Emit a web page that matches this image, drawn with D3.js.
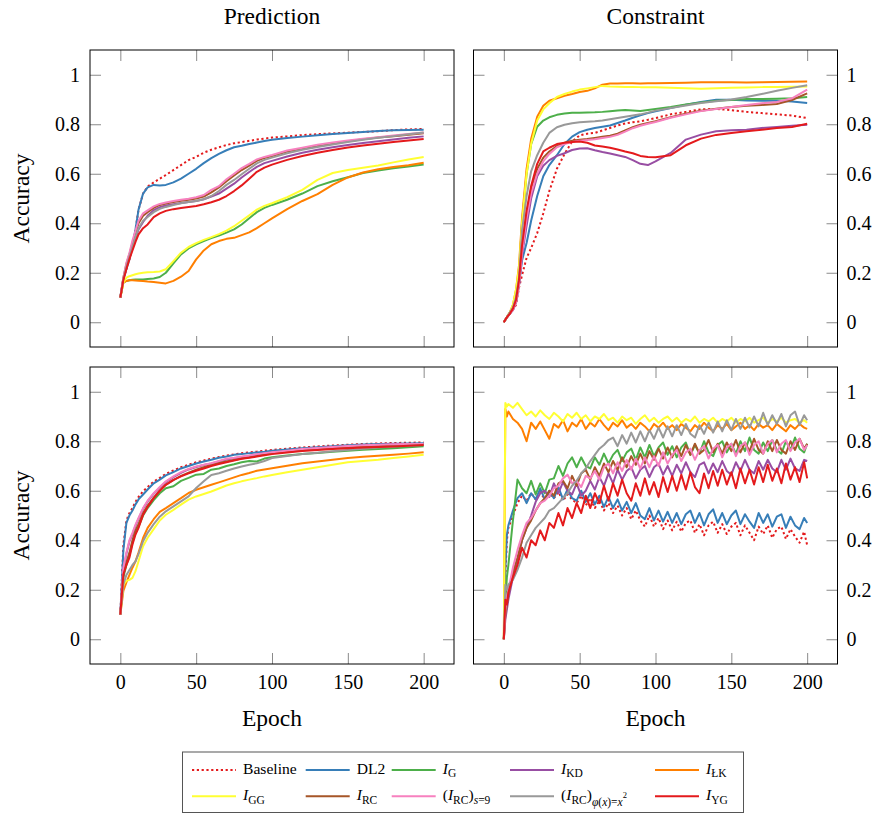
<!DOCTYPE html>
<html>
<head>
<meta charset="utf-8">
<script src="https://cdn.jsdelivr.net/npm/d3@7"></script>
<style>
  body { margin: 0; background: #fff; }
  svg { display: block; font-family: "Liberation Serif", "Times New Roman", serif; }
</style>
</head>
<body>
<svg id="chart"></svg>
<script>
      //begin: data
      var seriesNames = ["Baseline", "DL2", "I_G", "I_KD", "I_ŁK", "I_GG", "I_RC", "(I_RC)_s=9", "(I_RC)_phi(x)=x^2", "I_YG"];

      var epochsSmooth = [0,2,4,6,8,10,12,15,18,22,26,30,35,40,45,50,55,60,65,70,75,80,85,90,95,100,110,120,130,140,150,160,170,180,190,200];
      var epochsNoisy = [0,1,2,3,6,9,12,15,18,21,
                         24,27,30,33,36,39,42,45,48,51,
                         54,57,60,63,66,69,72,75,78,81,
                         84,87,90,93,96,99,102,105,108,111,
                         114,117,120,123,126,129,132,135,138,141,
                         144,147,150,153,156,159,162,165,168,171,
                         174,177,180,183,186,189,192,195,198,200];

      var xTickValues = [0, 50, 100, 150, 200];
      var yTickValues = [0, 0.2, 0.4, 0.6, 0.8, 1];

      // top row, Prediction (rows follow seriesNames)
      var topPrediction = [
        [0.10,0.175,0.215,0.255,0.31,0.375,0.455,0.52,0.548,0.565,0.58,0.595,0.615,0.635,0.655,0.668,0.685,0.697,0.707,0.716,0.723,0.728,0.733,0.738,0.742,0.746,0.751,0.756,0.76,0.763,0.766,0.769,0.772,0.776,0.779,0.781],
        [0.10,0.175,0.215,0.255,0.31,0.375,0.455,0.52,0.545,0.555,0.553,0.555,0.565,0.58,0.60,0.62,0.643,0.663,0.68,0.695,0.707,0.713,0.72,0.726,0.732,0.737,0.744,0.75,0.756,0.761,0.765,0.769,0.773,0.776,0.777,0.778],
        [0.10,0.16,0.167,0.17,0.172,0.173,0.173,0.173,0.175,0.177,0.183,0.20,0.238,0.274,0.298,0.315,0.328,0.34,0.35,0.362,0.375,0.395,0.42,0.445,0.462,0.474,0.495,0.52,0.55,0.57,0.586,0.603,0.613,0.622,0.629,0.637],
        [0.10,0.175,0.22,0.26,0.30,0.34,0.375,0.405,0.43,0.453,0.465,0.472,0.477,0.482,0.486,0.49,0.497,0.508,0.52,0.54,0.56,0.585,0.607,0.628,0.643,0.652,0.67,0.685,0.697,0.707,0.716,0.724,0.731,0.738,0.745,0.751],
        [0.10,0.16,0.167,0.17,0.17,0.169,0.168,0.167,0.165,0.163,0.16,0.157,0.167,0.184,0.207,0.254,0.29,0.315,0.328,0.337,0.341,0.352,0.363,0.38,0.40,0.42,0.457,0.49,0.518,0.555,0.585,0.605,0.618,0.627,0.634,0.644],
        [0.10,0.16,0.18,0.186,0.19,0.194,0.197,0.20,0.202,0.203,0.205,0.214,0.247,0.281,0.304,0.32,0.333,0.344,0.356,0.37,0.388,0.41,0.432,0.455,0.47,0.481,0.505,0.535,0.575,0.603,0.615,0.624,0.633,0.646,0.658,0.668],
        [0.10,0.18,0.235,0.275,0.32,0.36,0.40,0.43,0.445,0.462,0.474,0.48,0.486,0.491,0.495,0.50,0.508,0.525,0.545,0.57,0.593,0.615,0.633,0.652,0.664,0.672,0.69,0.702,0.713,0.722,0.731,0.739,0.746,0.752,0.758,0.764],
        [0.10,0.18,0.24,0.28,0.33,0.37,0.41,0.44,0.452,0.468,0.478,0.484,0.49,0.495,0.499,0.505,0.514,0.535,0.55,0.578,0.60,0.623,0.64,0.658,0.668,0.676,0.694,0.705,0.717,0.726,0.734,0.741,0.748,0.755,0.761,0.767],
        [0.10,0.175,0.225,0.265,0.305,0.345,0.38,0.41,0.425,0.445,0.458,0.466,0.474,0.481,0.486,0.49,0.497,0.51,0.53,0.555,0.575,0.598,0.62,0.642,0.656,0.665,0.683,0.697,0.708,0.718,0.728,0.737,0.745,0.752,0.76,0.767],
        [0.10,0.17,0.215,0.255,0.29,0.325,0.355,0.38,0.395,0.425,0.44,0.45,0.457,0.462,0.466,0.47,0.477,0.485,0.495,0.51,0.53,0.553,0.58,0.608,0.625,0.637,0.656,0.672,0.685,0.696,0.706,0.714,0.721,0.728,0.734,0.74]
      ];

      // top row, Constraint
      var topConstraint = [
        [0,0.02,0.035,0.05,0.07,0.14,0.19,0.26,0.30,0.36,0.44,0.53,0.62,0.68,0.73,0.755,0.762,0.765,0.775,0.785,0.795,0.803,0.808,0.812,0.818,0.825,0.84,0.85,0.86,0.862,0.857,0.85,0.845,0.84,0.835,0.825],
        [0,0.02,0.035,0.05,0.08,0.15,0.25,0.32,0.41,0.51,0.59,0.635,0.675,0.72,0.75,0.768,0.778,0.785,0.79,0.795,0.805,0.815,0.826,0.836,0.845,0.852,0.866,0.879,0.89,0.899,0.899,0.896,0.895,0.895,0.892,0.886],
        [0,0.02,0.04,0.06,0.11,0.20,0.40,0.60,0.72,0.79,0.815,0.828,0.838,0.843,0.846,0.846,0.847,0.848,0.85,0.853,0.856,0.858,0.856,0.854,0.858,0.862,0.87,0.88,0.888,0.895,0.898,0.902,0.902,0.903,0.905,0.91],
        [0,0.02,0.035,0.05,0.08,0.15,0.27,0.39,0.50,0.59,0.632,0.655,0.672,0.683,0.696,0.702,0.703,0.695,0.688,0.682,0.675,0.668,0.655,0.64,0.635,0.65,0.684,0.738,0.758,0.772,0.776,0.778,0.785,0.789,0.794,0.798],
        [0,0.02,0.04,0.07,0.13,0.23,0.42,0.62,0.74,0.83,0.875,0.895,0.905,0.915,0.922,0.93,0.935,0.945,0.96,0.965,0.965,0.966,0.966,0.965,0.966,0.966,0.967,0.968,0.97,0.97,0.97,0.969,0.97,0.971,0.972,0.973],
        [0,0.02,0.04,0.07,0.13,0.22,0.40,0.60,0.72,0.815,0.86,0.885,0.91,0.922,0.932,0.94,0.945,0.95,0.955,0.953,0.952,0.951,0.951,0.95,0.95,0.949,0.947,0.945,0.943,0.945,0.947,0.948,0.95,0.951,0.952,0.953],
        [0,0.02,0.035,0.055,0.085,0.16,0.30,0.44,0.54,0.62,0.665,0.69,0.712,0.725,0.733,0.737,0.74,0.745,0.75,0.754,0.762,0.775,0.788,0.798,0.805,0.812,0.828,0.843,0.855,0.863,0.87,0.875,0.878,0.882,0.898,0.925],
        [0,0.02,0.035,0.05,0.08,0.15,0.28,0.42,0.52,0.60,0.65,0.68,0.707,0.72,0.728,0.733,0.736,0.739,0.744,0.749,0.757,0.77,0.784,0.794,0.802,0.809,0.826,0.84,0.853,0.862,0.87,0.878,0.885,0.89,0.905,0.94],
        [0,0.02,0.04,0.06,0.10,0.18,0.37,0.51,0.61,0.675,0.725,0.765,0.788,0.798,0.804,0.808,0.81,0.812,0.815,0.82,0.825,0.83,0.835,0.84,0.847,0.855,0.866,0.876,0.886,0.893,0.90,0.91,0.922,0.935,0.947,0.958],
        [0,0.02,0.035,0.055,0.09,0.17,0.31,0.45,0.55,0.64,0.69,0.705,0.72,0.725,0.728,0.73,0.725,0.714,0.71,0.705,0.698,0.69,0.683,0.672,0.668,0.667,0.675,0.715,0.742,0.757,0.765,0.772,0.778,0.785,0.789,0.802]
      ];

      // bottom row, Prediction
      var bottomPrediction = [
        [0.10,0.38,0.48,0.51,0.53,0.555,0.575,0.598,0.615,0.637,0.652,0.668,0.682,0.695,0.705,0.715,0.722,0.73,0.736,0.742,0.747,0.752,0.755,0.758,0.762,0.765,0.77,0.775,0.779,0.783,0.786,0.789,0.791,0.793,0.794,0.795],
        [0.10,0.36,0.47,0.50,0.52,0.545,0.565,0.585,0.605,0.63,0.645,0.662,0.675,0.69,0.70,0.71,0.718,0.725,0.733,0.738,0.745,0.748,0.752,0.755,0.758,0.762,0.767,0.772,0.776,0.78,0.784,0.787,0.789,0.79,0.791,0.792],
        [0.10,0.25,0.30,0.34,0.39,0.43,0.455,0.50,0.53,0.562,0.59,0.61,0.618,0.64,0.652,0.665,0.668,0.685,0.69,0.70,0.707,0.715,0.72,0.718,0.73,0.735,0.742,0.748,0.753,0.758,0.762,0.766,0.769,0.772,0.776,0.78],
        [0.10,0.28,0.345,0.395,0.425,0.458,0.487,0.527,0.557,0.588,0.612,0.635,0.655,0.672,0.686,0.696,0.704,0.71,0.718,0.726,0.731,0.736,0.74,0.746,0.75,0.754,0.76,0.767,0.771,0.775,0.779,0.782,0.785,0.787,0.788,0.789],
        [0.10,0.195,0.23,0.26,0.289,0.315,0.35,0.409,0.45,0.485,0.515,0.53,0.55,0.57,0.591,0.604,0.614,0.624,0.634,0.644,0.654,0.664,0.672,0.681,0.686,0.691,0.701,0.711,0.718,0.725,0.732,0.737,0.741,0.745,0.75,0.756],
        [0.10,0.221,0.236,0.24,0.248,0.275,0.315,0.376,0.41,0.445,0.48,0.503,0.523,0.544,0.564,0.577,0.587,0.597,0.609,0.621,0.63,0.638,0.645,0.651,0.658,0.664,0.675,0.685,0.695,0.705,0.715,0.72,0.725,0.732,0.738,0.745],
        [0.10,0.26,0.31,0.35,0.40,0.44,0.465,0.51,0.54,0.572,0.60,0.625,0.643,0.66,0.673,0.685,0.695,0.705,0.712,0.718,0.724,0.73,0.735,0.74,0.746,0.752,0.758,0.764,0.768,0.772,0.777,0.78,0.782,0.784,0.786,0.787],
        [0.10,0.29,0.35,0.40,0.43,0.463,0.49,0.53,0.56,0.59,0.615,0.638,0.658,0.675,0.688,0.698,0.705,0.711,0.72,0.729,0.733,0.738,0.742,0.748,0.752,0.756,0.762,0.769,0.773,0.777,0.781,0.784,0.786,0.788,0.789,0.789],
        [0.10,0.221,0.26,0.28,0.30,0.315,0.345,0.396,0.43,0.465,0.495,0.517,0.537,0.557,0.577,0.611,0.638,0.664,0.671,0.681,0.69,0.698,0.705,0.711,0.72,0.732,0.74,0.748,0.754,0.76,0.765,0.77,0.775,0.779,0.782,0.785],
        [0.10,0.262,0.30,0.33,0.383,0.423,0.45,0.503,0.535,0.57,0.60,0.624,0.644,0.658,0.67,0.681,0.69,0.70,0.708,0.715,0.722,0.729,0.733,0.738,0.743,0.748,0.755,0.761,0.765,0.769,0.772,0.775,0.777,0.779,0.782,0.785]
      ];

      // bottom row, Constraint (read every 3 epochs)
      var bottomConstraint = [
        [0,0.25,0.40,0.45,0.50,0.55,0.58,0.56,0.59,0.565,
         0.595,0.565,0.59,0.57,0.595,0.56,0.585,0.565,0.55,0.58,
         0.54,0.57,0.53,0.56,0.52,0.55,0.51,0.54,0.50,0.53,
         0.485,0.52,0.48,0.455,0.50,0.455,0.49,0.445,0.48,0.44,
         0.475,0.435,0.47,0.48,0.43,0.465,0.42,0.46,0.475,0.43,
         0.465,0.425,0.455,0.47,0.42,0.46,0.43,0.40,0.455,0.425,
         0.46,0.41,0.445,0.455,0.405,0.445,0.415,0.39,0.435,0.38],
        [0,0.28,0.42,0.46,0.52,0.57,0.59,0.55,0.59,0.565,
         0.61,0.565,0.60,0.57,0.615,0.565,0.605,0.57,0.56,0.60,
         0.555,0.59,0.545,0.58,0.535,0.575,0.53,0.565,0.52,0.555,
         0.51,0.55,0.50,0.485,0.53,0.48,0.52,0.475,0.515,0.47,
         0.51,0.465,0.505,0.52,0.47,0.51,0.46,0.505,0.525,0.47,
         0.51,0.465,0.50,0.52,0.465,0.505,0.475,0.45,0.51,0.47,
         0.505,0.455,0.495,0.505,0.45,0.495,0.46,0.445,0.49,0.47],
        [0,0.15,0.25,0.30,0.48,0.645,0.61,0.59,0.64,0.585,
         0.63,0.59,0.645,0.65,0.70,0.66,0.71,0.735,0.695,0.735,
         0.70,0.69,0.735,0.705,0.75,0.71,0.745,0.765,0.72,0.755,
         0.77,0.725,0.775,0.735,0.785,0.74,0.775,0.795,0.745,0.78,
         0.735,0.775,0.795,0.745,0.785,0.75,0.80,0.755,0.74,0.785,
         0.80,0.755,0.79,0.75,0.80,0.76,0.815,0.765,0.75,0.795,
         0.76,0.805,0.765,0.75,0.80,0.765,0.815,0.77,0.755,0.79],
        [0,0.08,0.12,0.16,0.25,0.32,0.40,0.45,0.50,0.555,
         0.59,0.60,0.575,0.63,0.59,0.635,0.60,0.585,0.63,0.58,
         0.60,0.64,0.605,0.655,0.62,0.67,0.63,0.685,0.645,0.68,
         0.695,0.65,0.685,0.70,0.655,0.695,0.71,0.665,0.70,0.66,
         0.705,0.67,0.715,0.675,0.655,0.705,0.715,0.67,0.71,0.675,
         0.72,0.68,0.665,0.715,0.68,0.725,0.685,0.67,0.72,0.685,
         0.725,0.69,0.675,0.725,0.685,0.73,0.69,0.68,0.725,0.72],
        [0,0.93,0.90,0.92,0.89,0.875,0.85,0.80,0.875,0.85,
         0.88,0.845,0.81,0.87,0.855,0.885,0.84,0.875,0.86,0.89,
         0.85,0.875,0.86,0.89,0.865,0.845,0.875,0.86,0.885,0.855,
         0.87,0.85,0.875,0.86,0.84,0.87,0.855,0.875,0.85,0.865,
         0.845,0.87,0.855,0.84,0.865,0.85,0.875,0.855,0.84,0.865,
         0.85,0.87,0.845,0.86,0.875,0.85,0.865,0.845,0.87,0.855,
         0.865,0.845,0.87,0.855,0.84,0.865,0.85,0.87,0.855,0.85],
        [0,0.955,0.94,0.95,0.935,0.955,0.93,0.905,0.92,0.90,
         0.925,0.905,0.89,0.915,0.90,0.88,0.91,0.895,0.915,0.89,
         0.905,0.88,0.90,0.89,0.91,0.885,0.895,0.875,0.90,0.885,
         0.895,0.87,0.89,0.905,0.88,0.895,0.875,0.89,0.90,0.88,
         0.895,0.875,0.89,0.88,0.90,0.875,0.89,0.88,0.895,0.875,
         0.89,0.88,0.895,0.875,0.89,0.88,0.895,0.875,0.885,0.895,
         0.875,0.89,0.88,0.895,0.875,0.885,0.89,0.875,0.885,0.875],
        [0,0.10,0.14,0.18,0.27,0.33,0.40,0.45,0.48,0.52,
         0.55,0.57,0.60,0.58,0.63,0.64,0.61,0.66,0.62,0.67,
         0.685,0.645,0.695,0.66,0.71,0.675,0.72,0.685,0.735,0.695,
         0.74,0.705,0.75,0.71,0.76,0.725,0.77,0.73,0.775,0.735,
         0.78,0.74,0.785,0.745,0.79,0.75,0.765,0.805,0.755,0.79,
         0.75,0.795,0.76,0.805,0.755,0.795,0.76,0.81,0.765,0.75,
         0.80,0.76,0.805,0.765,0.75,0.80,0.765,0.81,0.77,0.79],
        [0,0.12,0.17,0.20,0.29,0.36,0.42,0.47,0.49,0.52,
         0.55,0.56,0.58,0.61,0.62,0.65,0.665,0.63,0.64,0.615,
         0.66,0.65,0.68,0.645,0.695,0.71,0.67,0.715,0.68,0.725,
         0.685,0.73,0.69,0.735,0.695,0.74,0.70,0.755,0.71,0.745,
         0.765,0.72,0.755,0.77,0.725,0.765,0.78,0.73,0.77,0.785,
         0.735,0.775,0.79,0.74,0.78,0.795,0.745,0.785,0.80,0.75,
         0.79,0.805,0.755,0.79,0.805,0.76,0.795,0.81,0.765,0.785],
        [0,0.22,0.20,0.22,0.24,0.28,0.33,0.39,0.42,0.45,
         0.47,0.49,0.52,0.53,0.55,0.57,0.59,0.62,0.64,0.67,
         0.69,0.72,0.745,0.77,0.785,0.805,0.815,0.78,0.825,0.79,
         0.835,0.795,0.84,0.80,0.845,0.81,0.855,0.815,0.86,0.82,
         0.865,0.825,0.87,0.83,0.815,0.865,0.83,0.875,0.835,0.88,
         0.84,0.885,0.845,0.89,0.85,0.895,0.855,0.90,0.86,0.915,
         0.865,0.905,0.87,0.91,0.86,0.905,0.92,0.865,0.905,0.885],
        [0,0.16,0.14,0.19,0.25,0.30,0.37,0.33,0.40,0.38,
         0.44,0.40,0.47,0.45,0.51,0.46,0.53,0.49,0.55,0.51,
         0.58,0.53,0.59,0.55,0.62,0.56,0.63,0.58,0.645,0.59,
         0.56,0.63,0.58,0.65,0.585,0.635,0.575,0.655,0.595,0.66,
         0.60,0.665,0.605,0.675,0.615,0.59,0.67,0.61,0.68,0.62,
         0.685,0.625,0.675,0.61,0.69,0.63,0.685,0.625,0.695,0.635,
         0.705,0.64,0.69,0.63,0.71,0.645,0.695,0.635,0.715,0.65]
      ];

      // legend label pieces: [text, kind]
      var legendLabels = [
        [["Baseline", ""]],
        [["DL2", ""]],
        [["I", "i"], ["G", "sub"]],
        [["I", "i"], ["KD", "sub"]],
        [["I", "i"], ["ŁK", "sub"]],
        [["I", "i"], ["GG", "sub"]],
        [["I", "i"], ["RC", "sub"]],
        [["(", ""], ["I", "i"], ["RC", "sub"], [")", ""], ["s", "subi"], ["=9", "sub"]],
        [["(", ""], ["I", "i"], ["RC", "sub"], [")", ""], ["φ", "sub2i"], ["(", "sub2"], ["x", "sub2i"], [")=", "sub2"], ["x", "sub2i"], ["2", "sup2"]],
        [["I", "i"], ["YG", "sub"]]
      ];
      //end: data

      //begin: drawing conf.
      var seriesColors = ["#e41a1c", "#377eb8", "#4daf4a", "#984ea3", "#ff7f00", "#ffff33", "#a65628", "#f781bf", "#999999", "#e41a1c"];
      var seriesDash = ["2.2,2.6", null, null, null, null, null, null, null, null, null];
      var lineWidth = 2;

      var svgWidth = 878, svgHeight = 814,
          panelWidth = 364, panelHeight = 297,
          panelLefts = [90, 473.5],
          panelTops = [50, 367],
          tickLength = 11,
          tickFont = 20,
          titleFont = 23.5,
          legendFont = 15.6;

      var legendBox = {x: 182.5, y: 752, w: 561, h: 60.5},
          legendCols = [192, 305.7, 391.7, 510, 655],
          legendRows = [770, 796.3],
          legendSample = 44,
          legendGap = 7;

      var labelKinds = {
        "":    {off: 0,   size: legendFont, italic: false},
        i:     {off: 0,   size: legendFont, italic: true},
        sub:   {off: 3.4, size: 11.5, italic: false},
        subi:  {off: 3.4, size: 11.5, italic: true},
        sub2:  {off: 5.5, size: 11.5, italic: false},
        sub2i: {off: 5.5, size: 11.5, italic: true},
        sup2:  {off: -2.5, size: 8.5, italic: false}
      };
      //end: drawing conf.

      var panels = [
        {data: topPrediction,    epochs: epochsSmooth, col: 0, row: 0, title: "Prediction"},
        {data: topConstraint,    epochs: epochsSmooth, col: 1, row: 0, title: "Constraint"},
        {data: bottomPrediction, epochs: epochsSmooth, col: 0, row: 1},
        {data: bottomConstraint, epochs: epochsNoisy,  col: 1, row: 1}
      ];

      var svg = d3.select("#chart")
        .attr("width", svgWidth)
        .attr("height", svgHeight);

      panels.forEach(drawPanel);
      drawLegend();

      function styleAxis(g) {
        g.select(".domain").remove();
        g.selectAll(".tick line").attr("stroke", "#8a8a8a").attr("stroke-width", 1);
        g.selectAll(".tick text")
          .attr("fill", "#000")
          .style("font-family", "'Liberation Serif', 'Times New Roman', serif")
          .style("font-size", tickFont + "px");
      }

      function drawPanel(p) {
        var left = panelLefts[p.col], top = panelTops[p.row];
        var x = d3.scaleLinear().domain([-20, 220]).range([left, left + panelWidth]);
        var y = d3.scaleLinear().domain([-0.1, 1.1]).range([top + panelHeight, top]);

        var g = svg.append("g").classed("panel", true);

        // ticks, all pointing inward
        g.append("g")
          .attr("transform", "translate(0," + (top + panelHeight) + ")")
          .call(d3.axisBottom(x).tickValues(xTickValues).tickSize(-tickLength).tickPadding(11)
            .tickFormat(p.row === 1 ? d3.format("d") : ""))
          .call(styleAxis);
        g.append("g")
          .attr("transform", "translate(0," + top + ")")
          .call(d3.axisTop(x).tickValues(xTickValues).tickSize(-tickLength).tickFormat(""))
          .call(styleAxis);
        g.append("g")
          .attr("transform", "translate(" + left + ",0)")
          .call(d3.axisLeft(y).tickValues(yTickValues).tickSize(-tickLength).tickPadding(10)
            .tickFormat(p.col === 0 ? function(d) { return String(d); } : ""))
          .call(styleAxis);
        g.append("g")
          .attr("transform", "translate(" + (left + panelWidth) + ",0)")
          .call(d3.axisRight(y).tickValues(yTickValues).tickSize(-tickLength).tickPadding(9)
            .tickFormat(p.col === 1 ? function(d) { return String(d); } : ""))
          .call(styleAxis);

        var line = d3.line()
          .x(function(d, i) { return x(p.epochs[i]); })
          .y(function(d) { return y(d); });

        g.append("g")
          .selectAll("path")
          .data(p.data)
          .enter().append("path")
            .attr("d", line)
            .attr("fill", "none")
            .attr("stroke", function(d, i) { return seriesColors[i]; })
            .attr("stroke-width", lineWidth)
            .attr("stroke-linejoin", "round")
            .attr("stroke-dasharray", function(d, i) { return seriesDash[i]; });

        g.append("rect")
          .attr("x", left).attr("y", top)
          .attr("width", panelWidth).attr("height", panelHeight)
          .attr("fill", "none")
          .attr("stroke", "#000")
          .attr("stroke-width", 1);

        if (p.title) {
          svg.append("text")
            .attr("x", left + panelWidth / 2)
            .attr("y", 24)
            .attr("text-anchor", "middle")
            .style("font-size", titleFont + "px")
            .text(p.title);
        }
        if (p.col === 0) {
          svg.append("text")
            .attr("transform", "translate(" + [29, top + panelHeight / 2] + ") rotate(-90)")
            .attr("text-anchor", "middle")
            .style("font-size", titleFont + "px")
            .text("Accuracy");
        }
        if (p.row === 1) {
          svg.append("text")
            .attr("x", left + panelWidth / 2)
            .attr("y", 726)
            .attr("text-anchor", "middle")
            .style("font-size", titleFont + "px")
            .text("Epoch");
        }
      }

      function drawLegend() {
        var legend = svg.append("g").classed("legend", true);

        legend.append("rect")
          .attr("x", legendBox.x).attr("y", legendBox.y)
          .attr("width", legendBox.w).attr("height", legendBox.h)
          .attr("fill", "#fff")
          .attr("stroke", "#555")
          .attr("stroke-width", 1);

        seriesNames.forEach(function(name, i) {
          var cx = legendCols[i % 5], cy = legendRows[Math.floor(i / 5)];
          legend.append("line")
            .attr("x1", cx).attr("x2", cx + legendSample)
            .attr("y1", cy).attr("y2", cy)
            .attr("stroke", seriesColors[i])
            .attr("stroke-width", lineWidth)
            .attr("stroke-dasharray", seriesDash[i]);

          var text = legend.append("text")
            .attr("x", cx + legendSample + legendGap)
            .attr("y", cy + 4)
            .style("font-size", legendFont + "px");
          var prev = 0;
          legendLabels[i].forEach(function(part) {
            var k = labelKinds[part[1]];
            text.append("tspan")
              .attr("dy", k.off - prev)
              .style("font-size", k.size + "px")
              .style("font-style", k.italic ? "italic" : "normal")
              .text(part[0]);
            prev = k.off;
          });
        });
      }
</script>
</body>
</html>
